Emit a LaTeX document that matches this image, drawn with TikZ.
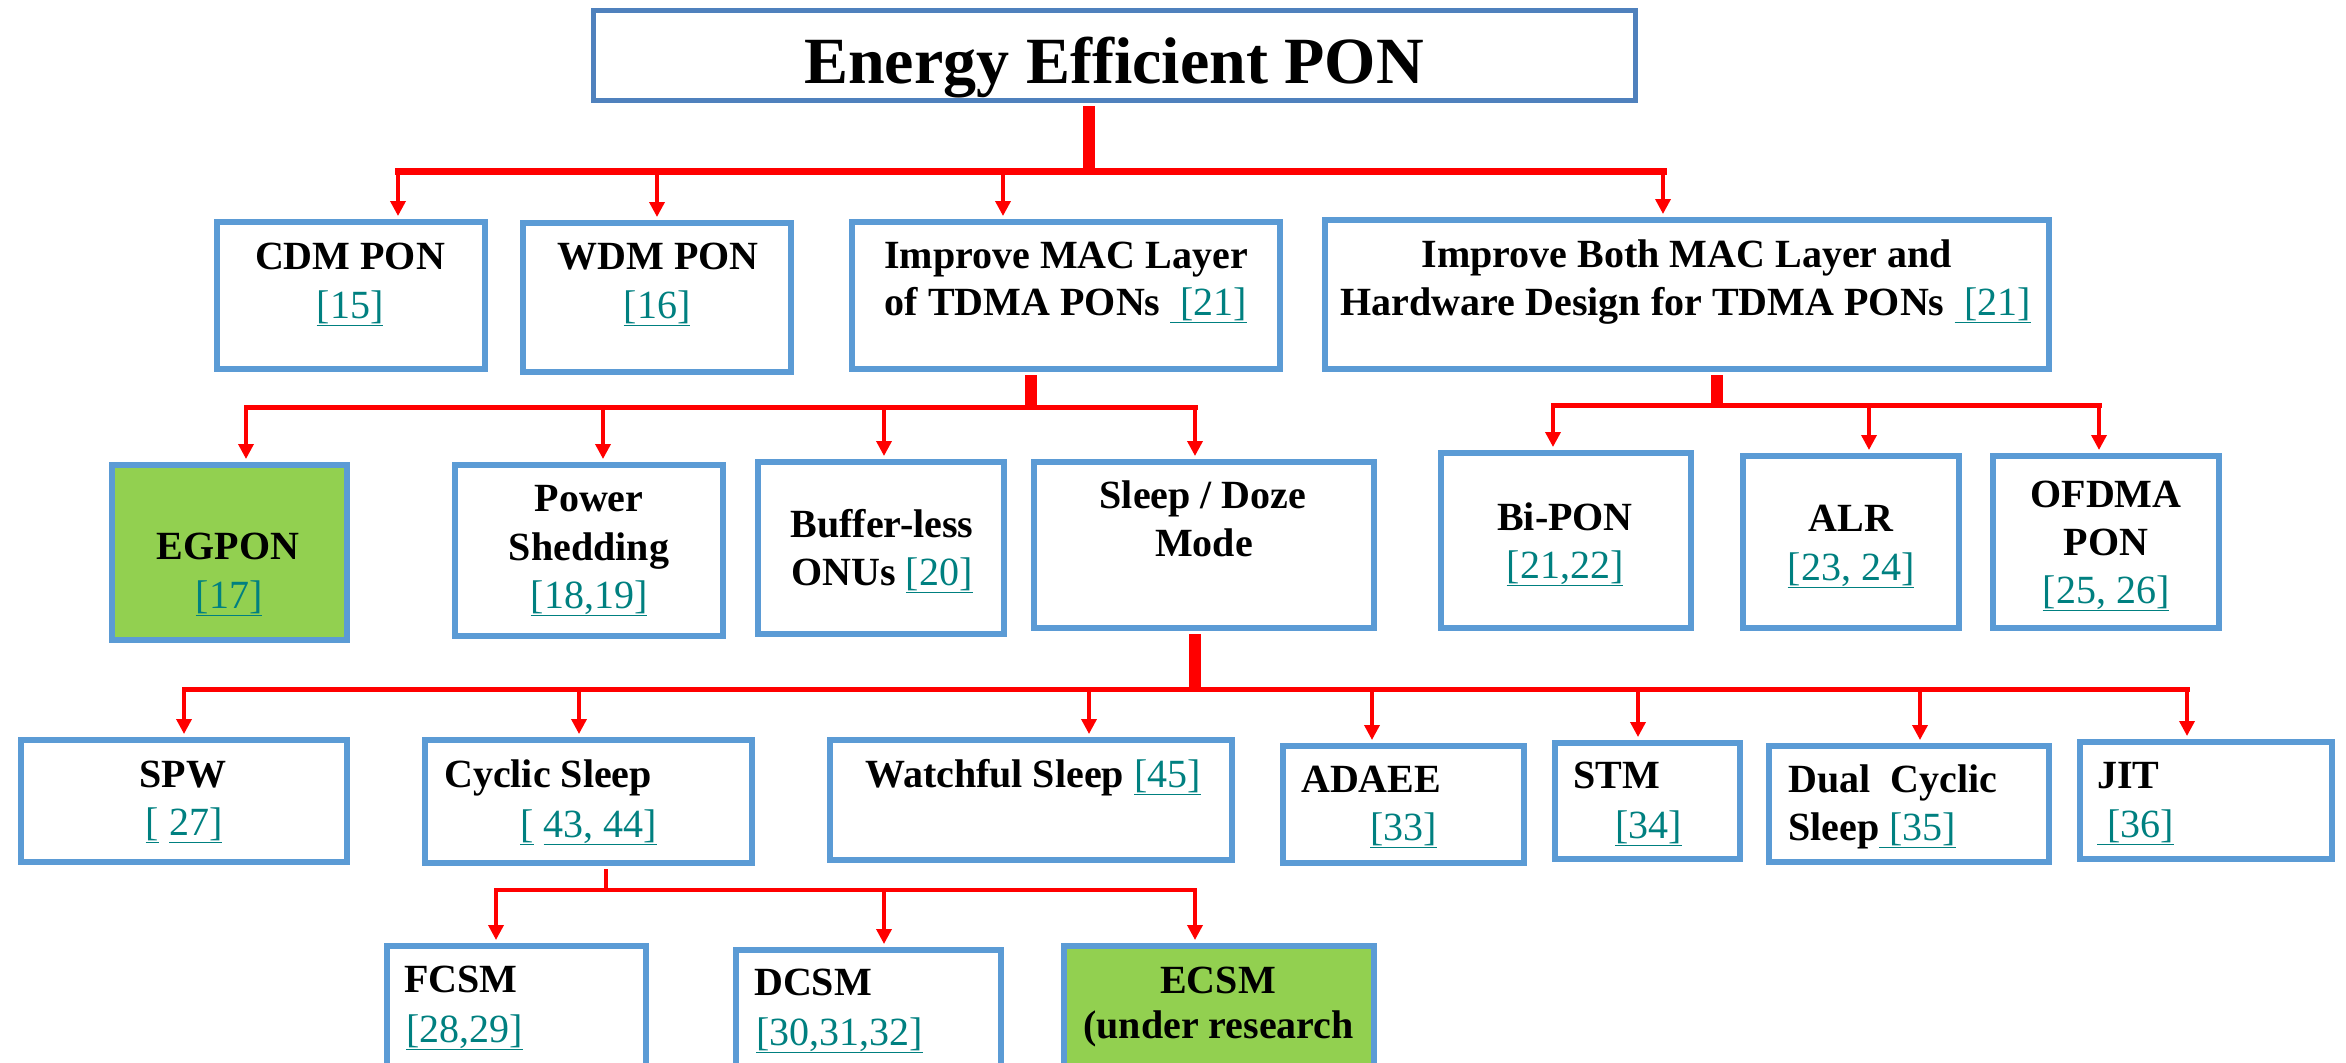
\documentclass[tikz,border=0pt]{standalone}
\usepackage{fontspec}
\setmainfont{Liberation Serif}
\usetikzlibrary{arrows.meta}
\definecolor{pblue}{HTML}{5B9BD5}
\definecolor{tblue}{HTML}{4F81BD}
\definecolor{pgreen}{HTML}{92D050}
\definecolor{pred}{HTML}{FF0000}
\definecolor{cteal}{HTML}{008080}
\newcommand{\cit}[1]{\textcolor{cteal}{\mdseries\underline{#1}}}

\begin{document}
\begin{tikzpicture}[x=1pt,y=-1pt]
                        \tikzstyle{pbox}=[draw=pblue, line width=6pt, fill=white, inner sep=0pt]
                        \tikzstyle{gbox}=[pbox, fill=pgreen]
                        \tikzstyle{tbox}=[draw=tblue, line width=5pt, fill=white, inner sep=0pt]
                        \tikzstyle{lbl}=[inner sep=0pt, font=\fontsize{40}{48}\selectfont\bfseries]
                        \tikzstyle{trunk}=[draw=pred, line width=12pt, shorten <=3pt]
                        \tikzstyle{bus}=[draw=pred, line width=5pt, line cap=rect]
                        \tikzstyle{arr}=[draw=pred, line width=3.5pt, -{Triangle[length=15pt,width=15pt]}, shorten >=3pt]
                        \useasboundingbox (0,0) rectangle (2346,1063);
                        \clip (0,0) rectangle (2346,1063);
                        \node[tbox, minimum width=1042, minimum height=90] (top) at (1114.5,55.5) {};
                        \node[pbox, minimum width=268, minimum height=147] (cdm) at (351,295.5) {};
                        \node[pbox, minimum width=268, minimum height=149] (wdm) at (657,297.5) {};
                        \node[pbox, minimum width=428, minimum height=147] (mac) at (1066,295.5) {};
                        \node[pbox, minimum width=724, minimum height=149] (both) at (1687,294.5) {};
                        \node[gbox, minimum width=235, minimum height=175] (egpon) at (229.5,552.5) {};
                        \node[pbox, minimum width=268, minimum height=171] (pow) at (589,550.5) {};
                        \node[pbox, minimum width=246, minimum height=172] (buf) at (881,548) {};
                        \node[pbox, minimum width=340, minimum height=166] (slp) at (1204,545) {};
                        \node[pbox, minimum width=250, minimum height=175] (bipon) at (1566,540.5) {};
                        \node[pbox, minimum width=216, minimum height=172] (alr) at (1851,542) {};
                        \node[pbox, minimum width=226, minimum height=172] (ofdma) at (2106,542) {};
                        \node[pbox, minimum width=326, minimum height=122] (spw) at (184,801) {};
                        \node[pbox, minimum width=327, minimum height=123] (cyc) at (588.5,801.5) {};
                        \node[pbox, minimum width=402, minimum height=120] (wat) at (1031,800) {};
                        \node[pbox, minimum width=241, minimum height=117] (ada) at (1403.5,804.5) {};
                        \node[pbox, minimum width=185, minimum height=116] (stm) at (1647.5,801) {};
                        \node[pbox, minimum width=280, minimum height=116] (dual) at (1909,804) {};
                        \node[pbox, minimum width=252, minimum height=117] (jit) at (2206,800.5) {};
                        \node[pbox, minimum width=259, minimum height=151] (fcsm) at (516.5,1021.5) {};
                        \node[pbox, minimum width=265, minimum height=147] (dcsm) at (868.5,1023.5) {};
                        \node[gbox, minimum width=310, minimum height=151] (ecsm) at (1219,1021.5) {};
                        \coordinate (bus1) at (0,171);
                        \coordinate (bus2) at (0,407);
                        \coordinate (bus2r) at (0,405);
                        \coordinate (bus3) at (0,689);
                        \coordinate (bus4) at (0,890);
                        \draw[trunk] (1089,0 |- top.south) -- (1089,0 |- bus1);
                        \draw[bus, line width=7pt] (398,0 |- bus1) -- (1663,0 |- bus1);
                        \foreach \n/\x in {cdm/398, wdm/657, mac/1003, both/1663}
                            \draw[arr] (\x,0 |- bus1) -- (\x,0 |- \n.north);
                        \draw[trunk] (1031,0 |- mac.south) -- (1031,0 |- bus2);
                        \draw[bus] (246,0 |- bus2) -- (1195,0 |- bus2);
                        \foreach \n/\x in {egpon/246, pow/603, buf/884, slp/1195}
                            \draw[arr] (\x,0 |- bus2) -- (\x,0 |- \n.north);
                        \draw[trunk] (1717,0 |- both.south) -- (1717,0 |- bus2r);
                        \draw[bus] (1553,0 |- bus2r) -- (2099,0 |- bus2r);
                        \foreach \n/\x in {bipon/1553, alr/1869, ofdma/2099}
                            \draw[arr] (\x,0 |- bus2r) -- (\x,0 |- \n.north);
                        \draw[trunk] (1195,0 |- slp.south) -- (1195,0 |- bus3);
                        \draw[bus] (184,0 |- bus3) -- (2187,0 |- bus3);
                        \foreach \n/\x in {spw/184, cyc/579, wat/1089, ada/1372, stm/1638, dual/1920, jit/2187}
                            \draw[arr] (\x,0 |- bus3) -- (\x,0 |- \n.north);
                        \draw[trunk, line width=3.5pt] (606,0 |- cyc.south) -- (606,0 |- bus4);
                        \draw[bus, line width=4pt] (496,0 |- bus4) -- (1195,0 |- bus4);
                        \foreach \n/\x in {fcsm/496, dcsm/884, ecsm/1195}
                            \draw[arr] (\x,0 |- bus4) -- (\x,0 |- \n.north);
                        \node[lbl, font=\fontsize{66}{79}\selectfont\bfseries, anchor=base] (title) at (1114,83) {Energy Efficient PON};
                        \node[lbl, anchor=base] (cdm1) at (350,269) {CDM PON};
                        \node[lbl, anchor=base] (cdm2) at (350,318) {\cit{[15]}};
                        \node[lbl, anchor=base] (wdm1) at (658,269) {WDM PON};
                        \node[lbl, anchor=base] (wdm2) at (657,318) {\cit{[16]}};
                        \node[lbl, anchor=base] (mac1) at (1066,268) {Improve MAC Layer};
                        \node[lbl, anchor=base] (mac2) at (1066,315) {of TDMA PONs \cit{\ [21]}};
                        \node[lbl, anchor=base] (both1) at (1687,267) {Improve Both MAC Layer and};
                        \node[lbl, anchor=base] (both2) at (1686,315) {Hardware Design for TDMA PONs \cit{\ [21]}};
                        \node[lbl, anchor=base] (egpon1) at (228,559) {EGPON};
                        \node[lbl, anchor=base] (egpon2) at (229,608) {\cit{[17]}};
                        \node[lbl, anchor=base] (pow1) at (589,511) {Power};
                        \node[lbl, anchor=base] (pow2) at (589,560) {Shedding};
                        \node[lbl, anchor=base] (pow3) at (589,608) {\cit{[18,19]}};
                        \node[lbl, anchor=base] (buf1) at (882,537) {Buffer-less};
                        \node[lbl, anchor=base] (buf2) at (882,585) {ONUs \cit{[20]}};
                        \node[lbl, anchor=base] (slp1) at (1203,508) {Sleep / Doze};
                        \node[lbl, anchor=base] (slp2) at (1204,556) {Mode};
                        \node[lbl, anchor=base] (bipon1) at (1565,530) {Bi-PON};
                        \node[lbl, anchor=base] (bipon2) at (1565,578) {\cit{[21,22]}};
                        \node[lbl, anchor=base] (alr1) at (1851,531) {ALR};
                        \node[lbl, anchor=base] (alr2) at (1851,580) {\cit{[23, 24]}};
                        \node[lbl, anchor=base] (ofdma1) at (2106,507) {OFDMA};
                        \node[lbl, anchor=base] (ofdma2) at (2106,555) {PON};
                        \node[lbl, anchor=base] (ofdma3) at (2106,603) {\cit{[25, 26]}};
                        \node[lbl, anchor=base] (spw1) at (183,787) {SPW};
                        \node[lbl, anchor=base] (spw2) at (184,835) {\cit{[}\ \cit{27]}};
                        \node[lbl, anchor=base west] (cyc1) at (444,787) {Cyclic Sleep};
                        \node[lbl, anchor=base west] (cyc2) at (520,837) {\cit{[}\ \cit{43, 44]}};
                        \node[lbl, anchor=base west] (wat1) at (865,787) {Watchful Sleep \cit{[45]}};
                        \node[lbl, anchor=base west] (ada1) at (1301,792) {ADAEE};
                        \node[lbl, anchor=base west] (ada2) at (1370,840) {\cit{[33]}};
                        \node[lbl, anchor=base west] (stm1) at (1573,788) {STM};
                        \node[lbl, anchor=base west] (stm2) at (1615,838) {\cit{[34]}};
                        \node[lbl, anchor=base west] (dual1) at (1788,792) {Dual\ \ Cyclic};
                        \node[lbl, anchor=base west] (dual2) at (1788,840) {Sleep\cit{\ [35]}};
                        \node[lbl, anchor=base west] (jit1) at (2097,788) {JIT};
                        \node[lbl, anchor=base west] (jit2) at (2097,837) {\cit{\ [36]}};
                        \node[lbl, anchor=base west] (fcsm1) at (404,992) {FCSM};
                        \node[lbl, anchor=base west] (fcsm2) at (406,1042) {\cit{[28,29]}};
                        \node[lbl, anchor=base west] (dcsm1) at (754,995) {DCSM};
                        \node[lbl, anchor=base west] (dcsm2) at (756,1045) {\cit{[30,31,32]}};
                        \node[lbl, anchor=base] (ecsm1) at (1218,993) {ECSM};
                        \node[lbl, anchor=base west] (ecsm2) at (1083,1038) {(under research};
\end{tikzpicture}
\end{document}
